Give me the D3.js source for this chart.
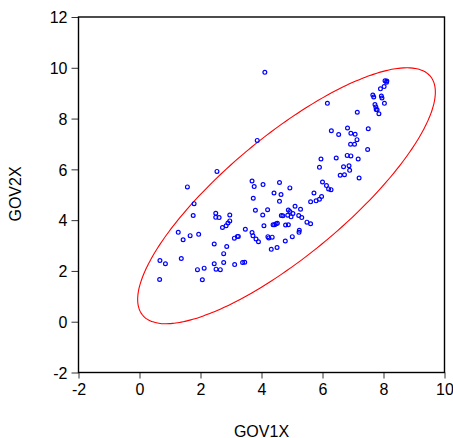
<!DOCTYPE html>
<html>
<head>
<meta charset="utf-8">
<script src="https://cdn.jsdelivr.net/npm/d3@7"></script>
<style>
  body { margin: 0; background: #fff; }
  svg text { font-family: "Liberation Sans", Arial, sans-serif; }
</style>
</head>
<body>
<svg id="chart"></svg>
<script>
// GOV1X / GOV2X values
const gov1x = [4.11, 6.16, 3.86, 2.54, 1.57, 1.79, 1.76, 1.27, 1.43, 1.66, 1.94, 1.37, 0.67, 0.85, 0.66,
  1.90, 2.12, 2.06, 2.45, 2.51, 2.65, 2.76, 3.12, 3.38, 3.45, 2.45, 2.76, 2.86, 2.72, 2.84, 2.90, 2.96,
  2.96, 2.50, 2.50, 2.61, 3.11, 3.21, 3.24, 3.47, 3.69, 3.72, 3.82, 3.90, 3.69, 3.76, 3.73, 3.80, 4.05,
  4.04, 4.08, 4.20, 4.41, 4.59, 4.59, 4.64, 4.93, 4.21, 4.24, 4.35, 4.32, 4.51, 4.38, 4.43, 4.48, 4.52,
  4.65, 4.70, 4.78, 4.79, 4.88, 4.86, 4.88, 4.93, 4.97, 5.03, 5.01, 5.10, 5.22, 5.23, 5.24, 5.28, 5.32,
  5.49, 5.61, 5.61, 5.72, 5.79, 5.90, 5.97, 5.90, 5.95, 6.00, 6.13, 6.20, 6.28, 6.29, 6.53, 6.45, 6.58,
  6.72, 6.69, 6.82, 6.93, 7.07, 7.13, 6.92, 7.05, 6.81, 6.93, 6.87, 6.89, 7.17, 7.20, 7.14, 7.48, 7.50,
  7.65, 7.68, 7.72, 7.75, 7.76, 7.79, 7.85, 7.90, 7.93, 7.95, 8.03, 8.02, 8.05, 8.10, 8.11];
const gov2x = [9.82, 8.60, 7.14, 5.92, 5.31, 4.65, 4.18, 3.52, 3.23, 3.39, 3.44, 2.49, 2.41, 2.28, 1.66,
  2.05, 2.11, 1.65, 2.28, 2.07, 2.05, 2.33, 2.25, 2.33, 2.34, 3.06, 2.68, 2.96, 3.71, 3.78, 3.89, 3.97,
  4.20, 4.27, 4.11, 4.10, 3.29, 3.36, 3.36, 3.64, 3.51, 3.39, 3.26, 3.15, 5.54, 5.32, 4.86, 4.39, 5.40,
  4.20, 3.78, 4.41, 5.07, 5.48, 4.74, 5.01, 5.27, 3.35, 3.30, 3.33, 2.85, 2.92, 3.82, 3.82, 3.86, 3.88,
  4.18, 4.17, 3.18, 3.81, 3.82, 4.19, 4.40, 4.34, 4.13, 4.26, 3.35, 4.55, 4.18, 3.52, 3.60, 4.43, 4.10,
  3.92, 3.86, 4.72, 5.07, 4.76, 4.82, 4.93, 6.08, 6.41, 5.50, 5.36, 5.23, 5.20, 7.52, 7.37, 6.45, 5.77,
  5.79, 6.10, 7.63, 7.42, 7.38, 7.17, 6.99, 6.99, 6.55, 6.53, 6.14, 5.96, 6.41, 5.66, 8.25, 6.78, 7.60,
  8.93, 8.85, 8.55, 8.46, 8.36, 8.35, 8.19, 9.17, 8.89, 8.81, 8.60, 9.26, 9.49, 9.43, 9.48];

const xTicks = [-2, 0, 2, 4, 6, 8, 10];
const yTicks = [-2, 0, 2, 4, 6, 8, 10, 12];

// confidence ellipse: centre, half extents along x and y, correlation
const ellipseCenter = [4.82, 4.96];
const ellipseHalf = [4.88, 5.04];
const ellipseRho = 0.81;

const margin = {top: 17, right: 8.5, bottom: 65.5, left: 78.5};
const W = 453, H = 438;
const width = W - margin.left - margin.right;
const height = H - margin.top - margin.bottom;

const svg = d3.select("#chart")
  .attr("width", W)
  .attr("height", H)
  .append("g")
  .attr("transform", "translate(" + margin.left + "," + margin.top + ")");

const x = d3.scaleLinear().domain([-2, 10]).range([0, width]);
const y = d3.scaleLinear().domain([-2, 12]).range([height, 0]);

// axes (plain hyphen for negatives, like the original)
const fmt = v => String(v);
const gx = svg.append("g")
  .attr("transform", "translate(0," + height + ")")
  .call(d3.axisBottom(x).tickValues(xTicks).tickFormat(fmt).tickSize(6).tickPadding(5));
const gy = svg.append("g")
  .call(d3.axisLeft(y).tickValues(yTicks).tickFormat(fmt).tickSize(7).tickPadding(4));
[gx, gy].forEach(g => {
  g.select(".domain").remove();
  g.selectAll(".tick line").attr("stroke", "#333");
  g.selectAll(".tick text")
    .attr("fill", "#000")
    .style("font-size", "16px")
    .style("font-family", "'Liberation Sans', Arial, sans-serif");
});
gy.selectAll(".tick text").attr("dy", "0.36em");

// frame
svg.append("rect")
  .attr("width", width)
  .attr("height", height)
  .attr("fill", "none")
  .attr("stroke", "#000")
  .attr("stroke-width", 1.4);

// ellipse
const d = Math.acos(ellipseRho);
const angles = d3.range(0, 360, 2).map(a => a * Math.PI / 180);
const ellipse = d3.line()
  .x(t => x(ellipseCenter[0] + ellipseHalf[0] * Math.cos(t)))
  .y(t => y(ellipseCenter[1] + ellipseHalf[1] * Math.cos(t - d)))
  .curve(d3.curveCardinalClosed);
svg.append("path")
  .datum(angles)
  .attr("d", ellipse)
  .attr("fill", "none")
  .attr("stroke", "#ff0000")
  .attr("stroke-width", 1.1);

// points
svg.selectAll("circle.pt")
  .data(gov1x.map((v, i) => [v, gov2x[i]]))
  .enter().append("circle")
  .attr("class", "pt")
  .attr("cx", p => x(p[0]))
  .attr("cy", p => y(p[1]))
  .attr("r", 1.9)
  .attr("fill", "none")
  .attr("stroke", "#0000ff")
  .attr("stroke-width", 1.2);

// axis titles
svg.append("text")
  .attr("x", width / 2)
  .attr("y", height + 64)
  .attr("text-anchor", "middle")
  .style("font-size", "16px")
  .text("GOV1X");

svg.append("text")
  .attr("transform", "rotate(-90)")
  .attr("x", -177)
  .attr("y", -58)
  .attr("text-anchor", "middle")
  .style("font-size", "16px")
  .text("GOV2X");
</script>
</body>
</html>
